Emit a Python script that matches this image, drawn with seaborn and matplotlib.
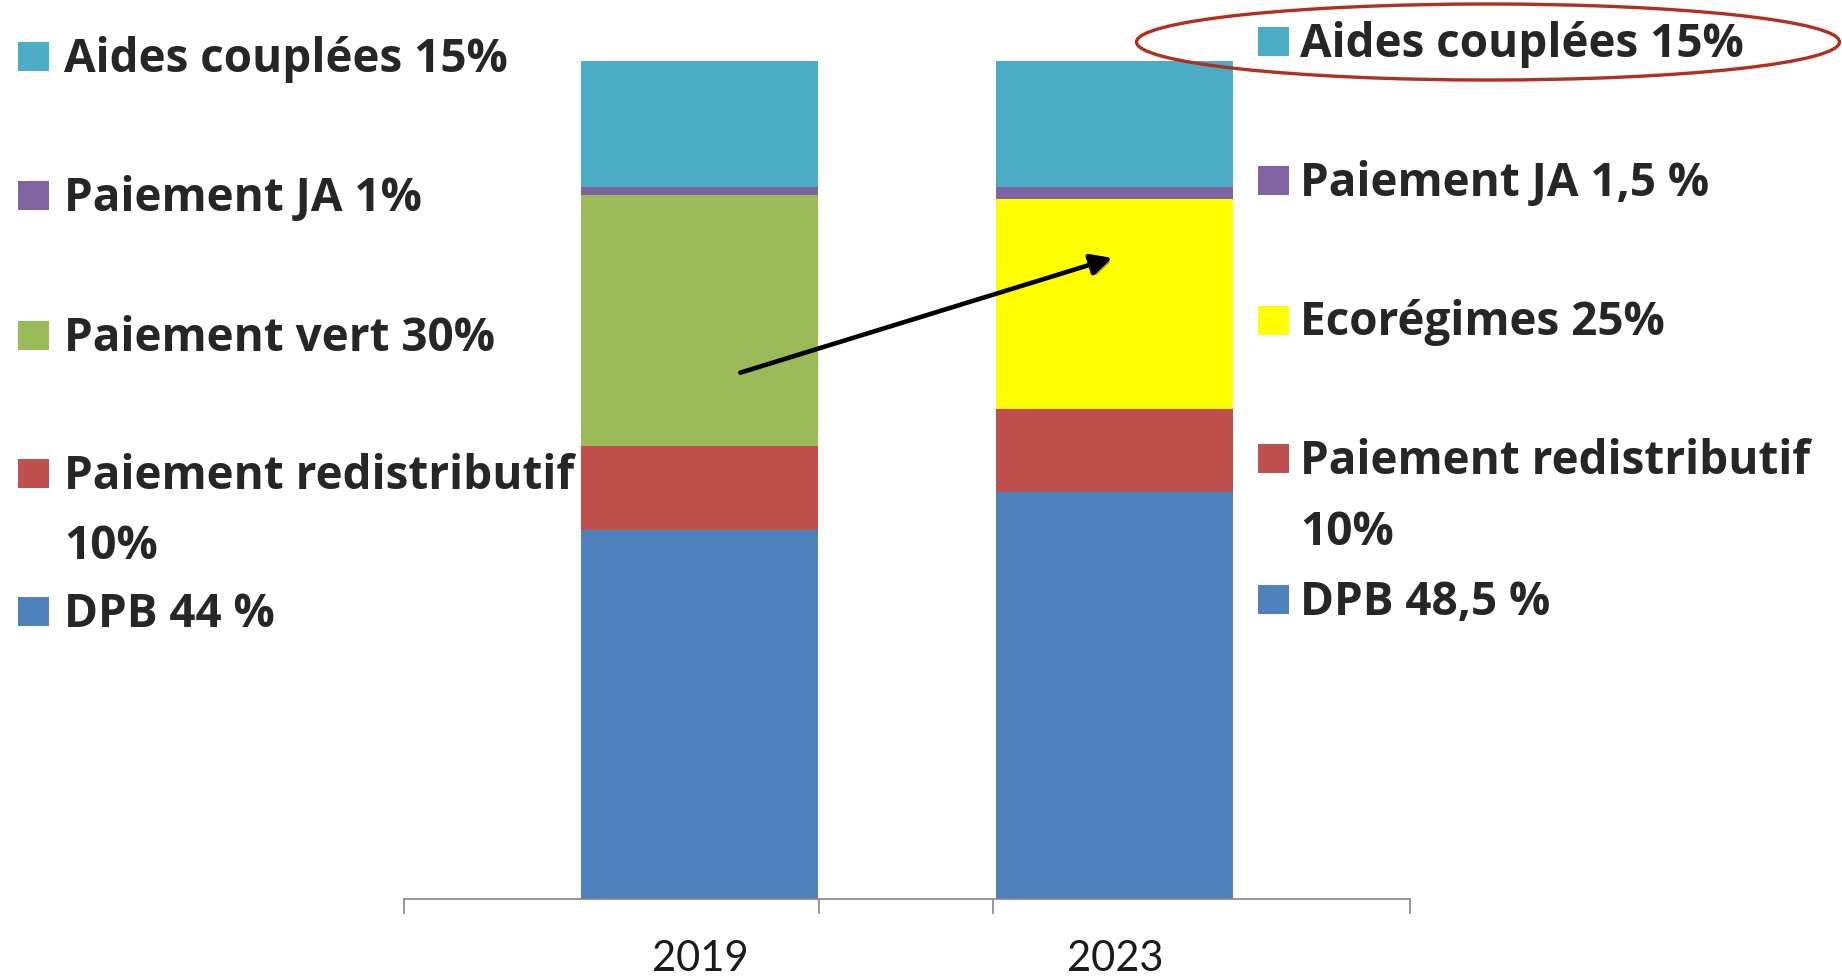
# Stacked bars: PAC payment split 2019 vs 2023
import pandas as pd
import numpy as np
import matplotlib
matplotlib.use('Agg')
import matplotlib.pyplot as plt
import matplotlib.patheffects as pe
import seaborn as sns
from matplotlib.patches import Rectangle, Ellipse

# Data
years = ['2019', '2023']
dpb = [44, 48.5]
redistributif = [10, 10]
vert = [30, 0]
ecoregimes = [0, 25]
ja = [1, 1.5]
couplees = [15, 15]

series = ['DPB', 'Paiement redistributif', 'Paiement vert', 'Ecorégimes', 'Paiement JA', 'Aides couplées']
colors = ['#4F81BD', '#C0504D', '#9BBB59', '#FFFF00', '#8064A2', '#4BACC6']

left_labels = ['Aides couplées 15%', 'Paiement JA 1%', 'Paiement vert 30%', 'Paiement redistributif', 'DPB 44 %']
left_colors = ['#4BACC6', '#8064A2', '#9BBB59', '#C0504D', '#4F81BD']
right_labels = ['Aides couplées 15%', 'Paiement JA 1,5 %', 'Ecorégimes 25%', 'Paiement redistributif', 'DPB 48,5 %']
right_colors = ['#4BACC6', '#8064A2', '#FFFF00', '#C0504D', '#4F81BD']

df = pd.DataFrame({'annee': years, 'DPB': dpb, 'Paiement redistributif': redistributif,
                   'Paiement vert': vert, 'Ecorégimes': ecoregimes,
                   'Paiement JA': ja, 'Aides couplées': couplees})
cum = df[series].cumsum(axis=1)

sns.set_style('white')
plt.rcParams['font.family'] = ['Lato', 'DejaVu Sans']

W, H = 1842, 977
fig = plt.figure(figsize=(W / 100, H / 100), dpi=100)
ax = fig.add_axes([404 / W, 1 - 898.6 / H, (1410 - 404) / W, (898.6 - 61.1) / H])

# draw cumulative bars top-down so lower segments cover upper ones
for name, col in zip(series[::-1], colors[::-1]):
    sns.barplot(x=df['annee'], y=cum[name], color=col, width=0.571,
                saturation=1, linewidth=0, ax=ax)

ax.set_xlim(-0.713, 1.711)
ax.set_ylim(0, 100)
ax.set_xlabel('')
ax.set_ylabel('')
ax.set_yticks([])
for s in ['left', 'top', 'right']:
    ax.spines[s].set_visible(False)
ax.spines['bottom'].set_color('#868686')
ax.spines['bottom'].set_linewidth(1.2)

ax.set_xticks([0, 1])
ax.set_xticklabels(years, fontsize=30, color='#1a1a1a')
ax.set_xticks([-0.713, 0.287, 0.706, 1.711], minor=True)
ax.tick_params(axis='x', which='major', length=0, pad=30)
ax.tick_params(axis='x', which='minor', length=11, width=1.2, color='#868686', bottom=True)

# arrow from green to yellow
ax.annotate('', xy=(1.0, 76.6), xytext=(0.091, 62.7),
            arrowprops=dict(arrowstyle='-|>', color='black', lw=3.3, mutation_scale=32,
                            path_effects=[pe.SimplePatchShadow(offset=(2, -2), alpha=0.3),
                                          pe.Normal()]))


def legend_col(labels, cols, centers, sq_x, txt_x, extra_y):
    for lab, c, yc in zip(labels, cols, centers):
        fig.add_artist(Rectangle((sq_x / W, 1 - (yc + 15) / H), 31 / W, 29 / H,
                                 transform=fig.transFigure, color=c, lw=0))
        fig.text(txt_x / W, 1 - (yc + 16) / H, lab, fontsize=33, fontweight='bold',
                 family='Open Sans', va='baseline', ha='left')
    fig.text(txt_x / W, 1 - (extra_y + 16) / H, '10%', fontsize=33, fontweight='bold',
             family='Open Sans', va='baseline', ha='left')


legend_col(left_labels, left_colors, [55.8, 195, 334.8, 473.4, 611.4], 18, 64, 542.7)
legend_col(right_labels, right_colors, [41, 179.7, 319.5, 458, 599], 1258, 1300, 528.6)

# red highlight ellipse
fig.add_artist(Ellipse((1488 / W, 1 - 42 / H), 703 / W, 76 / H, transform=fig.transFigure,
                       fill=False, edgecolor='#B22E1E', lw=2.4))

fig.savefig('out.png', dpi=100)
